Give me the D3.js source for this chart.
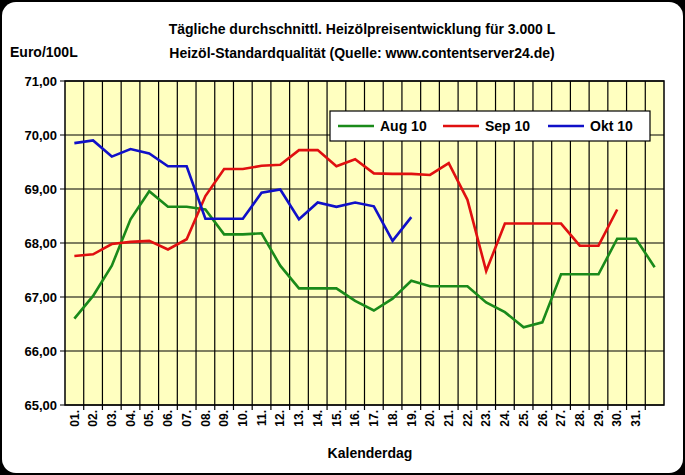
<!DOCTYPE html>
<html lang="de">
<head>
<meta charset="UTF-8">
<title>Heizölpreisentwicklung</title>
<script src="https://d3js.org/d3.v7.min.js"></script>
<style>
  body { margin: 0; background: #000; }
  svg { display: block; font-family: Arial, "Liberation Sans", sans-serif; }
</style>
</head>
<body>
<svg id="chart" width="685" height="475"></svg>
<script>
const days = d3.range(1, 33);
const tickLabels = days.map(d => d <= 31 ? String(d).padStart(2, "0") + "." : "");
const aug10 = [66.6, 67.02, 67.58, 68.44, 68.96, 68.67, 68.67, 68.62, 68.16, 68.16, 68.18, 67.58, 67.16, 67.16, 67.16, 66.93,
               66.75, 66.97, 67.3, 67.2, 67.2, 67.2, 66.9, 66.72, 66.44, 66.53, 67.42, 67.42, 67.42, 68.08, 68.08, 67.55];
const sep10 = [67.76, 67.79, 67.98, 68.02, 68.04, 67.88, 68.07, 68.87, 69.37, 69.37, 69.43, 69.45, 69.72, 69.72, 69.42, 69.55,
               69.29, 69.28, 69.28, 69.26, 69.48, 68.8, 67.48, 68.36, 68.36, 68.36, 68.36, 67.95, 67.95, 68.62];
const okt10 = [69.85, 69.9, 69.6, 69.74, 69.66, 69.42, 69.42, 68.45, 68.45, 68.45, 68.93, 68.99, 68.44, 68.75, 68.67, 68.75,
               68.68, 68.04, 68.48];
const series = [
  { name: "Aug 10", color: "#1a8a1a", values: aug10 },
  { name: "Sep 10", color: "#e01010", values: sep10 },
  { name: "Okt 10", color: "#1010c8", values: okt10 }
];
const yTicks = d3.range(65, 72, 1);

const svg = d3.select("#chart");
svg.append("rect").attr("x", 2).attr("y", 2).attr("width", 681).attr("height", 471)
  .attr("rx", 14).attr("fill", "#fff");

const pLeft = 65, pRight = 664, pTop = 81, pBottom = 405;
const x = d3.scaleBand().domain(days).range([pLeft, pRight]);
const y = d3.scaleLinear().domain([65, 71]).range([pBottom, pTop]);

svg.append("rect").attr("x", pLeft).attr("y", pTop).attr("width", pRight - pLeft).attr("height", pBottom - pTop)
  .attr("fill", "#ffffc0").attr("stroke", "#000").attr("stroke-width", 1.5);

const grid = svg.append("g").attr("stroke", "#000").attr("stroke-width", 1.2);
days.slice(1).forEach(d => grid.append("line")
  .attr("x1", x(d)).attr("x2", x(d)).attr("y1", pTop).attr("y2", pBottom + 5));
yTicks.forEach(v => grid.append("line")
  .attr("x1", pLeft - 5).attr("x2", pRight).attr("y1", y(v)).attr("y2", y(v)));

svg.append("g").attr("transform", `translate(${pLeft},0)`)
  .call(d3.axisLeft(y).tickValues(yTicks).tickSize(0).tickPadding(8).tickFormat(d => d3.format(".2f")(d).replace(".", ",")))
  .call(g => g.select(".domain").remove())
  .call(g => g.selectAll("text").attr("font-size", 13).attr("font-weight", "bold").attr("fill", "#000"));

const xa = svg.append("g").attr("transform", `translate(0,${pBottom})`)
  .call(d3.axisBottom(x).tickSize(0).tickFormat((d, i) => tickLabels[i]))
  .call(g => g.select(".domain").remove());
xa.selectAll("text").attr("font-size", 12).attr("font-weight", "bold").attr("fill", "#000")
  .attr("transform", "rotate(-90)").attr("text-anchor", "end").attr("x", -5).attr("dx", 0).attr("y", 0).attr("dy", "0.35em");

const line = d3.line().x((v, i) => x(days[i]) + x.bandwidth() / 2).y(v => y(v));
series.forEach(s => svg.append("path").attr("d", line(s.values)).attr("fill", "none")
  .attr("stroke", s.color).attr("stroke-width", 2.6));

// legend
const lg = svg.append("g");
lg.append("rect").attr("x", 330).attr("y", 111).attr("width", 320).attr("height", 30)
  .attr("fill", "#fff").attr("stroke", "#000").attr("stroke-width", 1.2);
series.forEach((s, i) => {
  const lx = 338 + i * 105;
  lg.append("line").attr("x1", lx).attr("x2", lx + 36).attr("y1", 126).attr("y2", 126)
    .attr("stroke", s.color).attr("stroke-width", 2.6);
  lg.append("text").attr("x", lx + 42).attr("y", 131).text(s.name)
    .attr("font-size", 14).attr("font-weight", "bold");
});

const t = svg.append("g").attr("font-weight", "bold").attr("fill", "#000");
t.append("text").attr("x", 362).attr("y", 34).attr("text-anchor", "middle").attr("font-size", 14)
  .text("Tägliche durchschnittl. Heizölpreisentwicklung für 3.000 L");
t.append("text").attr("x", 362).attr("y", 58).attr("text-anchor", "middle").attr("font-size", 14)
  .text("Heizöl-Standardqualität (Quelle: www.contentserver24.de)");
t.append("text").attr("x", 10).attr("y", 57).attr("font-size", 14).text("Euro/100L");
t.append("text").attr("x", 370).attr("y", 458).attr("text-anchor", "middle").attr("font-size", 14).text("Kalenderdag");
</script>
</body>
</html>
